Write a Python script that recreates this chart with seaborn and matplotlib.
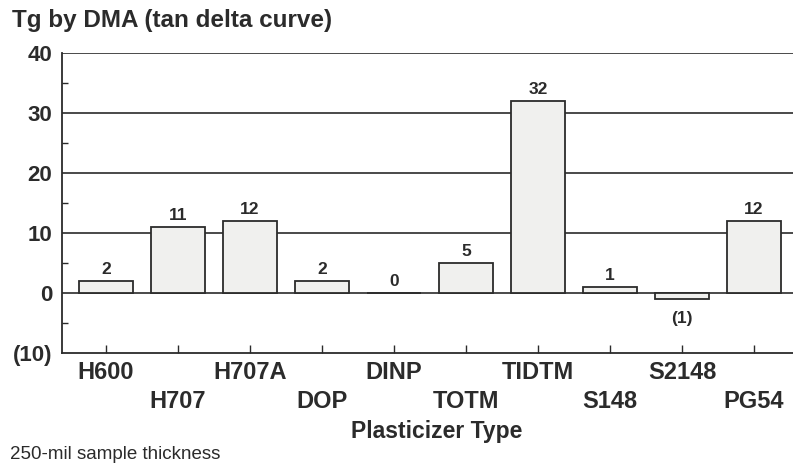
import pandas as pd
import numpy as np
import matplotlib.pyplot as plt
import seaborn as sns
from matplotlib.ticker import MultipleLocator

plasticizers = ["H600", "H707", "H707A", "DOP", "DINP", "TOTM", "TIDTM", "S148", "S2148", "PG54"]
tg_values = [2, 11, 12, 2, 0, 5, 32, 1, -1, 12]
y_ticks = [40, 30, 20, 10, 0, -10]
y_tick_labels = ["40", "30", "20", "10", "0", "(10)"]

df = pd.DataFrame({"plasticizer": plasticizers, "tg": tg_values})

sns.set_style("white")
plt.rcParams["font.family"] = ["Liberation Sans", "DejaVu Sans"]
ink = "#2b2b2b"

fig = plt.figure(figsize=(7.93, 4.66), dpi=100)
ax = fig.add_axes([0.078, 0.2425, 0.922, 0.6435])

sns.barplot(data=df, x="plasticizer", y="tg", color="#f0f0ee", edgecolor=ink,
            linewidth=1.3, width=0.75, saturation=1, ax=ax, zorder=3)

ax.set_ylim(-10, 40)
ax.set_xlim(-0.611, 9.54)
for y in [0, 10, 20, 30, 40]:
    ax.axhline(y, color=ink, lw=1.2, zorder=1)

ax.set_yticks(y_ticks)
ax.set_yticklabels(y_tick_labels, fontsize=16, fontweight="bold", color=ink)
ax.yaxis.set_minor_locator(MultipleLocator(5))
ax.tick_params(axis="y", which="major", length=0, pad=7)
ax.tick_params(axis="y", which="minor", direction="in", length=4, width=1, color=ink, left=True)

ax.set_xticks(range(len(plasticizers)))
ax.set_xticklabels([p if i % 2 == 0 else "\n" + p for i, p in enumerate(plasticizers)],
                   fontsize=17, fontweight="bold", color=ink, linespacing=1.3)
ax.tick_params(axis="x", direction="in", length=6, width=1, color=ink, bottom=True, pad=6)

for s in ["top", "right"]:
    ax.spines[s].set_visible(False)
for s in ["left", "bottom"]:
    ax.spines[s].set_color(ink)
    ax.spines[s].set_linewidth(1.3)

for i, v in enumerate(tg_values):
    if v < 0:
        ax.text(i, v - 2.0, f"({abs(v)})", ha="center", va="top", fontsize=12.5,
                fontweight="bold", color=ink)
    else:
        ax.text(i, v + 0.7, f"{v}", ha="center", va="bottom", fontsize=12.5,
                fontweight="bold", color=ink)

ax.set_xlabel("")
ax.set_ylabel("")
fig.text(0.551, 0.073, "Plasticizer Type", fontsize=16.5, fontweight="bold",
         color=ink, ha="center", va="center")

fig.text(0.015, 0.957, "Tg by DMA (tan delta curve)", fontsize=17.5, fontweight="bold",
         color=ink, va="center")
fig.text(0.012, 0.024, "250-mil sample thickness", fontsize=13.5, color=ink, va="center")

fig.savefig("out.png", dpi=100)
